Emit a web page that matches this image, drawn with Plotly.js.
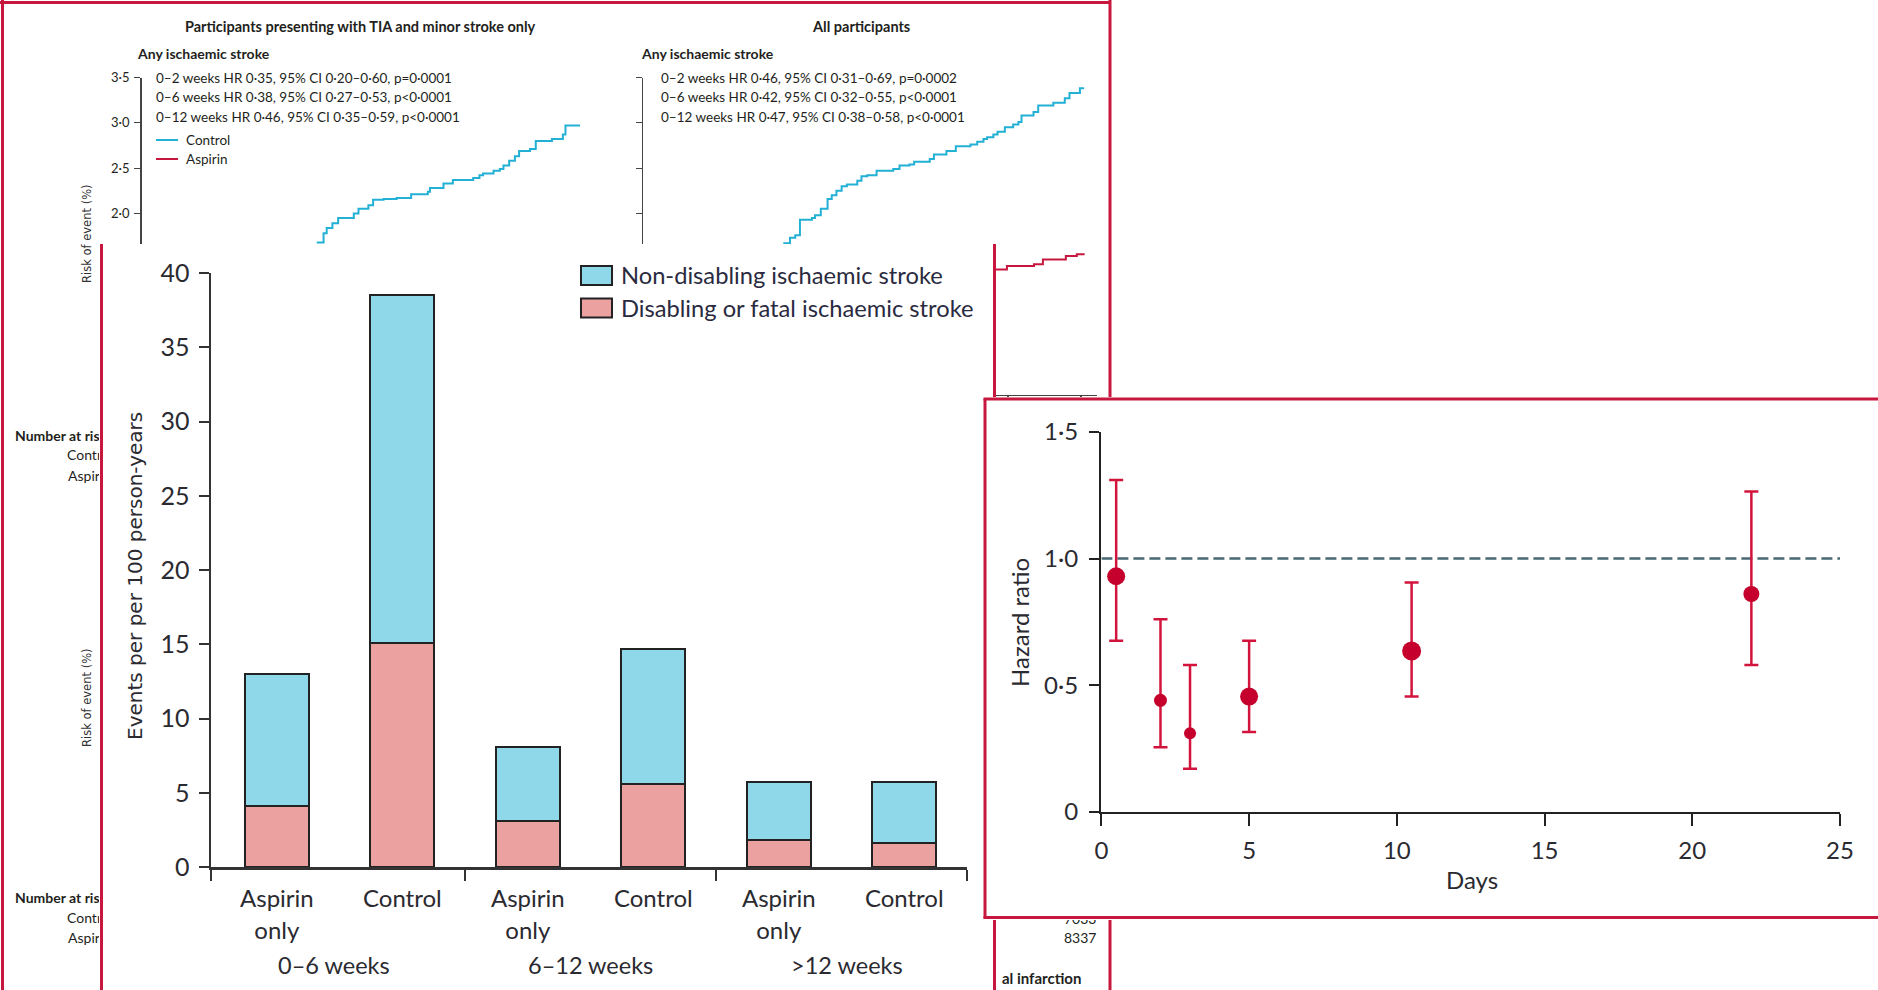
<!DOCTYPE html>
<html><head><meta charset="utf-8">
<script src="https://cdn.plot.ly/plotly-3.0.1.min.js"></script>
<style>
html,body{margin:0;padding:0;background:#fff;width:1878px;height:990px;overflow:hidden}
.panel{position:absolute}
</style></head><body>
<div id="bg" class="panel" style="left:0;top:0;width:1113px;height:990px;z-index:1"></div>
<div id="bars" class="panel" style="left:99px;top:244px;width:897px;height:746px;z-index:2"></div>
<div id="hr" class="panel" style="left:983px;top:397px;width:895px;height:523px;z-index:3"></div>
<script>
// ---------------- data ----------------
const kmPanelTitles = ['Participants presenting with TIA and minor stroke only', 'All participants'];
const kmOutcome = 'Any ischaemic stroke';
const kmLeftStats = ['0–2 weeks HR 0·35, 95% CI 0·20–0·60, p=0·0001', '0–6 weeks HR 0·38, 95% CI 0·27–0·53, p<0·0001', '0–12 weeks HR 0·46, 95% CI 0·35–0·59, p<0·0001'];
const kmRightStats = ['0–2 weeks HR 0·46, 95% CI 0·31–0·69, p=0·0002', '0–6 weeks HR 0·42, 95% CI 0·32–0·55, p<0·0001', '0–12 weeks HR 0·47, 95% CI 0·38–0·58, p<0·0001'];
const kmGroups = ['Control', 'Aspirin'];
const kmYTitle = 'Risk of event (%)';
const kmYTicks = [0, 0.5, 1, 1.5, 2, 2.5, 3, 3.5];
const kmYTickText = ['0', '0·5', '1·0', '1·5', '2·0', '2·5', '3·0', '3·5'];
const kmXTicks = [0, 14, 28, 42, 56, 70, 84];
const kmLeftControlDays = [33.6, 34.9, 35.5, 36.6, 37.7, 40.7, 41.6, 43.5, 44.4, 46.4, 48.9, 51.7, 54.9, 55.3, 57.9, 59.7, 63.6, 64.8, 65.5, 67.5, 68.7, 69.4, 70.5, 71.6, 72.4, 74.5, 75.6, 78.7, 80.8, 81.3, 84.1];
const kmLeftControlRisk = [1.68, 1.78, 1.84, 1.89, 1.95, 2.00, 2.05, 2.09, 2.15, 2.16, 2.17, 2.21, 2.24, 2.28, 2.33, 2.37, 2.39, 2.42, 2.44, 2.47, 2.49, 2.53, 2.58, 2.63, 2.69, 2.71, 2.80, 2.82, 2.87, 2.97, 2.97];
const kmRightControlDays = [26.9, 28.2, 29.2, 30.1, 32.4, 33.0, 34.1, 35.4, 36.2, 37.1, 38.1, 39.1, 41.1, 41.9, 43.0, 44.8, 48.0, 49.2, 51.1, 52.0, 55.0, 55.8, 58.2, 60.0, 62.8, 64.1, 65.3, 66.0, 67.2, 68.0, 69.4, 71.0, 72.0, 72.6, 74.9, 75.8, 78.7, 80.9, 81.8, 83.8, 84.6];
const kmRightControlRisk = [1.67, 1.73, 1.76, 1.93, 1.95, 1.98, 2.05, 2.16, 2.20, 2.25, 2.30, 2.32, 2.36, 2.41, 2.42, 2.47, 2.49, 2.53, 2.54, 2.57, 2.60, 2.65, 2.69, 2.74, 2.76, 2.79, 2.82, 2.84, 2.87, 2.90, 2.95, 2.98, 3.01, 3.08, 3.12, 3.19, 3.22, 3.27, 3.33, 3.38, 3.38];
const kmRightAspirinDays = [67.5, 69.8, 75.0, 76.7, 81.1, 83.2, 84.7];
const kmRightAspirinRisk = [1.38, 1.42, 1.44, 1.49, 1.53, 1.55, 1.55];
const kmRiskLabels = ['Number at risk', 'Control', 'Aspirin'];
const kmRiskNumbers = ['7033', '8337'];
const kmLowerTitle = 'al infarction';

const barCategories = ['Aspirin<br>only', 'Control', 'Aspirin<br>only', 'Control', 'Aspirin<br>only', 'Control'];
const barGroups = ['0–6 weeks', '6–12 weeks', '>12 weeks'];
const seriesNames = ['Non-disabling ischaemic stroke', 'Disabling or fatal ischaemic stroke'];
const disablingRate = [4.1, 15.1, 3.1, 5.6, 1.8, 1.6];
const nonDisablingRate = [8.9, 23.4, 5.0, 9.1, 3.9, 4.1];
const barYTicks = [0, 5, 10, 15, 20, 25, 30, 35, 40];
const barYTitle = 'Events per per 100 person-years';

const hrDays = [0.5, 2, 3, 5, 10.5, 22];
const hrValue = [0.93, 0.44, 0.31, 0.455, 0.635, 0.86];
const hrLower = [0.675, 0.255, 0.17, 0.315, 0.455, 0.58];
const hrUpper = [1.31, 0.76, 0.58, 0.675, 0.905, 1.265];
const hrYTicks = [0, 0.5, 1, 1.5];
const hrYTickText = ['0', '0·5', '1·0', '1·5'];
const hrXTicks = [0, 5, 10, 15, 20, 25];
const hrXTitle = 'Days';
const hrYTitle = 'Hazard ratio';

// ---------------- styles ----------------
const FONT = 'Lato, "Liberation Sans", Arial, sans-serif';
const FONT2 = '"DejaVu Sans", Verdana, sans-serif';
const RED = '#c8173f';
const CYAN = '#22b0d5';
const TXT = '#231f20';
const cfg = {staticPlot: true, displayModeBar: false};
const esc = s => s.replace(/</g, '&lt;').replace(/>/g, '&gt;');

function frame(W, H) {
  return {
    px: x => x / W,
    py: y => 1 - y / H,
  };
}

// ---------------- background KM figure ----------------
(function () {
  const W = 1113, H = 990, f = frame(W, H);
  const yDom = [f.py(394.6), f.py(77.5)];
  const axX = (dom) => ({domain: dom, range: [0, 87], showline: true, linecolor: '#444', linewidth: 1.5,
    ticks: 'outside', ticklen: 5, tickwidth: 1.2, tickcolor: '#444', tickmode: 'array', tickvals: kmXTicks,
    showticklabels: false, showgrid: false, zeroline: false, fixedrange: true});
  const axY = (showLab) => ({domain: yDom, range: [0, 3.5], showline: true, linecolor: '#444', linewidth: 1.5,
    ticks: 'outside', ticklen: 6, tickwidth: 1.2, tickcolor: '#444', tickmode: 'array', tickvals: kmYTicks,
    ticktext: kmYTickText, showticklabels: showLab, ticklabelstandoff: 2,
    tickfont: {family: FONT, size: 13, color: TXT}, showgrid: false, zeroline: false});
  const traces = [
    {x: kmLeftControlDays, y: kmLeftControlRisk, xaxis: 'x', yaxis: 'y', mode: 'lines',
      line: {shape: 'hv', color: CYAN, width: 2}},
    {x: kmRightControlDays, y: kmRightControlRisk, xaxis: 'x2', yaxis: 'y2', mode: 'lines',
      line: {shape: 'hv', color: CYAN, width: 2}},
    {x: kmRightAspirinDays, y: kmRightAspirinRisk, xaxis: 'x2', yaxis: 'y2', mode: 'lines',
      line: {shape: 'hv', color: RED, width: 2}},
  ];
  const ann = [];
  const txt = (text, x, y, o) => ann.push(Object.assign({text, x: f.px(x), y: f.py(y), xref: 'paper', yref: 'paper',
    showarrow: false, xanchor: 'left', yanchor: 'middle', font: {family: FONT, size: 13.5, color: TXT}}, o || {}));
  txt('<b>' + kmPanelTitles[0] + '</b>', 360, 27, {xanchor: 'center', font: {family: FONT, size: 14.5, color: TXT}});
  txt('<b>' + kmPanelTitles[1] + '</b>', 861, 27, {xanchor: 'center', font: {family: FONT, size: 14.5, color: TXT}});
  txt('<b>' + kmOutcome + '</b>', 135, 53, {font: {family: FONT, size: 14, color: TXT}});
  txt('<b>' + kmOutcome + '</b>', 639, 53, {font: {family: FONT, size: 14, color: TXT}});
  const statY = [78, 97, 117];
  kmLeftStats.forEach((s, i) => txt(esc(s), 154, statY[i]));
  kmRightStats.forEach((s, i) => txt(esc(s), 659, statY[i]));
  txt(kmGroups[0], 184, 140);
  txt(kmGroups[1], 184, 159);
  txt(kmYTitle, 87, 234, {xanchor: 'center', textangle: -90, font: {family: FONT2, size: 11.5, color: '#333'}});
  txt(kmYTitle, 87, 698, {xanchor: 'center', textangle: -90, font: {family: FONT2, size: 11.5, color: '#333'}});
  [435, 897].forEach(y0 => {
    txt('<b>' + kmRiskLabels[0] + '</b>', 13, y0, {font: {family: FONT, size: 14, color: TXT}});
    txt(kmRiskLabels[1], 65, y0 + 20, {font: {family: FONT, size: 14, color: TXT}});
    txt(kmRiskLabels[2], 66, y0 + 40, {font: {family: FONT, size: 14, color: TXT}});
  });
  txt(kmRiskNumbers[0], 1098, 918, {xanchor: 'right', font: {family: FONT, size: 14, color: TXT}});
  txt(kmRiskNumbers[1], 1098, 937, {xanchor: 'right', font: {family: FONT, size: 14, color: TXT}});
  txt('<b>' + kmLowerTitle + '</b>', 1000, 978, {font: {family: FONT, size: 15, color: TXT}});
  const shp = [];
  const line = (x0, y0, x1, y1, color, w) => shp.push({type: 'line', xref: 'paper', yref: 'paper',
    x0: f.px(x0), y0: f.py(y0), x1: f.px(x1), y1: f.py(y1), line: {color, width: w}});
  line(156, 140, 178, 140, CYAN, 2);
  line(156, 159, 178, 159, RED, 2);
  line(2.5, 0, 2.5, 990, RED, 3);
  line(0, 2.5, 1111, 2.5, RED, 3);
  line(1110, 0, 1110, 990, RED, 3);
  Plotly.newPlot('bg', traces, {
    width: W, height: H, margin: {l: 0, r: 0, t: 0, b: 0}, showlegend: false,
    paper_bgcolor: '#fff', plot_bgcolor: 'rgba(0,0,0,0)',
    xaxis: Object.assign(axX([f.px(141.6), f.px(595.2)]), {anchor: 'y'}),
    yaxis: Object.assign(axY(true), {anchor: 'x'}),
    xaxis2: Object.assign(axX([f.px(643), f.px(1096.6)]), {anchor: 'y2'}),
    yaxis2: Object.assign(axY(false), {anchor: 'x2'}),
    annotations: ann, shapes: shp,
  }, cfg);
})();

// ---------------- bar chart panel ----------------
(function () {
  const X0 = 99, Y0 = 244, W = 897, H = 746;
  const f = frame(W, H);
  const px = x => f.px(x - X0), py = y => f.py(y - Y0);
  const idx = barCategories.map((_, i) => i);
  const colors = ['#8fd8e9', '#eaa1a0'];
  const traces = [
    {type: 'bar', x: idx, y: disablingRate, width: 0.51, name: seriesNames[1],
      marker: {color: colors[1], line: {color: '#222', width: 2}}},
    {type: 'bar', x: idx, y: nonDisablingRate, width: 0.51, name: seriesNames[0],
      marker: {color: colors[0], line: {color: '#222', width: 2}}},
  ];
  const ann = [], shp = [];
  const groupCentersPx = [334, 591, 847];
  barGroups.forEach((g, i) => ann.push({text: esc(g), x: px(groupCentersPx[i]), xref: 'paper', y: py(965), yref: 'paper',
    showarrow: false, xanchor: 'center', yanchor: 'middle', font: {family: FONT, size: 23.5, color: '#2a2a30'}}));
  ann.push({text: barYTitle, x: px(135), y: py(576), xref: 'paper', yref: 'paper', textangle: -90,
    showarrow: false, xanchor: 'center', yanchor: 'middle', font: {family: FONT2, size: 20, color: '#2a2a30'}});
  // legend
  const legY = [275.5, 308];
  seriesNames.forEach((n, i) => {
    shp.push({type: 'rect', xref: 'paper', yref: 'paper', x0: px(581), x1: px(612),
      y0: py(legY[i] - 9.5), y1: py(legY[i] + 9.5), fillcolor: colors[i], line: {color: '#222', width: 2}});
    ann.push({text: n, x: px(619), y: py(legY[i]), xref: 'paper', yref: 'paper', showarrow: false,
      xanchor: 'left', yanchor: 'middle', font: {family: FONT, size: 23.7, color: '#2a2a40'}});
  });
  shp.push({type: 'line', xref: 'paper', yref: 'paper', x0: px(101.5), x1: px(101.5), y0: 0, y1: 1, line: {color: RED, width: 3}});
  shp.push({type: 'line', xref: 'paper', yref: 'paper', x0: px(994.5), x1: px(994.5), y0: 0, y1: 1, line: {color: RED, width: 3}});
  Plotly.newPlot('bars', traces, {
    width: W, height: H, margin: {l: 0, r: 0, t: 0, b: 0}, showlegend: false, barmode: 'stack',
    paper_bgcolor: '#fff', plot_bgcolor: '#fff',
    xaxis: {domain: [px(211), px(967)], range: [-0.525, 5.5], tickmode: 'array', tickvals: idx,
      ticktext: barCategories, ticks: '', ticklabelstandoff: 9,
      tickfont: {family: FONT, size: 24, color: '#2a2a30'},
      showline: true, linecolor: '#333', linewidth: 2.5, showgrid: false, zeroline: false,
      minor: {tickmode: 'array', tickvals: [-0.525, 1.5, 3.5, 5.5], ticks: 'outside', ticklen: 11,
        tickwidth: 2, tickcolor: '#333', showgrid: false}},
    yaxis: {domain: [py(867), py(273)], range: [0, 40], tickmode: 'array', tickvals: barYTicks,
      ticks: 'outside', ticklen: 10, tickwidth: 2, tickcolor: '#333', ticklabelstandoff: 4,
      tickfont: {family: FONT, size: 25, color: '#2a2a30'},
      showline: true, linecolor: '#333', linewidth: 2.5, showgrid: false, zeroline: false},
    annotations: ann, shapes: shp,
  }, cfg);
})();

// ---------------- hazard ratio panel ----------------
(function () {
  const X0 = 983, Y0 = 397, W = 895, H = 523;
  const f = frame(W, H);
  const px = x => f.px(x - X0), py = y => f.py(y - Y0);
  const traces = [{
    type: 'scatter', mode: 'markers', x: hrDays, y: hrValue, cliponaxis: false,
    marker: {color: '#c5002c', opacity: 1, line: {width: 0}, size: [18, 13, 12, 18, 19, 16]},
    error_y: {type: 'data', symmetric: false, array: hrUpper.map((u, i) => u - hrValue[i]),
      arrayminus: hrLower.map((l, i) => hrValue[i] - l), color: '#d2143c', thickness: 2.5, width: 7},
  }];
  const ann = [
    {text: hrXTitle, x: px(1472), y: py(879), xref: 'paper', yref: 'paper', showarrow: false,
      xanchor: 'center', yanchor: 'middle', font: {family: FONT, size: 24, color: '#2a2a30'}},
    {text: hrYTitle, x: px(1020), y: py(623), xref: 'paper', yref: 'paper', showarrow: false, textangle: -90,
      xanchor: 'center', yanchor: 'middle', font: {family: FONT, size: 24, color: '#2a2a30'}},
  ];
  const shp = [
    {type: 'line', xref: 'x', yref: 'y', x0: 0, x1: 25, y0: 1, y1: 1, layer: 'below',
      line: {color: '#4a6873', width: 2.5, dash: '11px,5px'}},
    {type: 'line', xref: 'paper', yref: 'paper', x0: px(985), x1: px(985), y0: py(399), y1: py(918.5), line: {color: RED, width: 3}},
    {type: 'line', xref: 'paper', yref: 'paper', x0: px(983.5), x1: 1, y0: py(399), y1: py(399), line: {color: RED, width: 3}},
    {type: 'line', xref: 'paper', yref: 'paper', x0: px(983.5), x1: 1, y0: py(917.5), y1: py(917.5), line: {color: RED, width: 3}},
  ];
  Plotly.newPlot('hr', traces, {
    width: W, height: H, margin: {l: 0, r: 0, t: 0, b: 0}, showlegend: false,
    paper_bgcolor: '#fff', plot_bgcolor: '#fff',
    xaxis: {domain: [px(1101.4), px(1840)], range: [0, 25], tickmode: 'array', tickvals: hrXTicks,
      ticks: 'outside', ticklen: 12, tickwidth: 2, tickcolor: '#222', ticklabelstandoff: 4,
      tickfont: {family: FONT, size: 24, color: '#2a2a30'},
      showline: true, linecolor: '#222', linewidth: 2.5, showgrid: false, zeroline: false},
    yaxis: {domain: [py(811.8), py(431.9)], range: [0, 1.5], tickmode: 'array', tickvals: hrYTicks,
      ticktext: hrYTickText, ticks: 'outside', ticklen: 10, tickwidth: 2, tickcolor: '#222', ticklabelstandoff: 6,
      tickfont: {family: FONT, size: 24, color: '#2a2a30'},
      showline: true, linecolor: '#222', linewidth: 2.5, showgrid: false, zeroline: false},
    annotations: ann, shapes: shp,
  }, cfg);
})();
</script>
</body></html>
